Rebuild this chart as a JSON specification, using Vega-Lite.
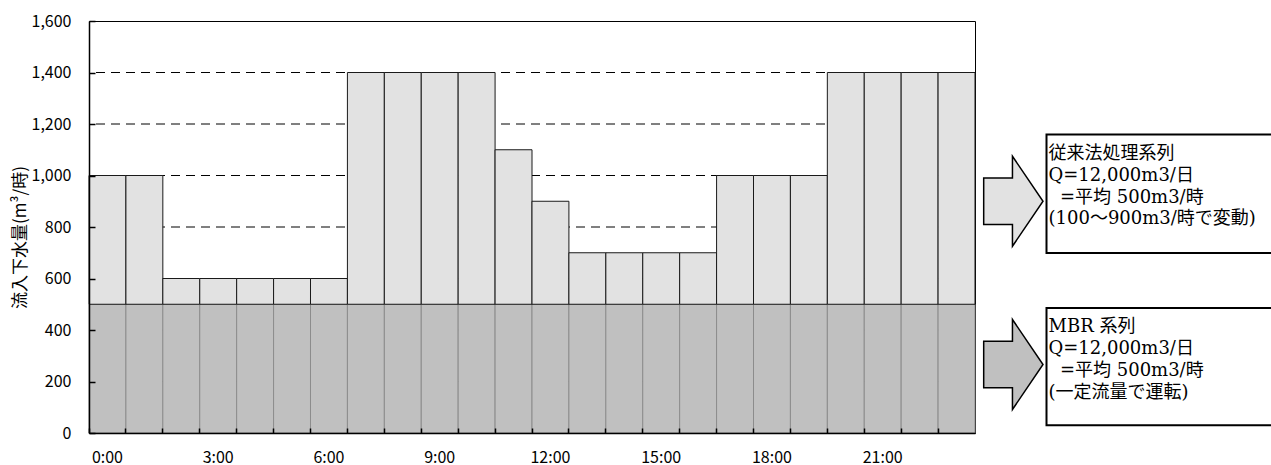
{
  "$schema": "https://vega.github.io/schema/vega-lite/v6.json",
  "padding": {"left": 10, "top": 12, "right": 0, "bottom": 0},
  "spacing": 0,
  "config": {
    "font": "Noto Sans CJK JP",
    "view": {"stroke": "#000", "strokeWidth": 1},
    "axis": {
      "labelColor": "#000",
      "titleColor": "#000",
      "domainColor": "#000",
      "tickColor": "#000",
      "labelFont": "Noto Sans CJK JP",
      "labelFontSize": 16,
      "titleFont": "Noto Sans CJK JP"
    }
  },
  "datasets": {
    "inflow": [
      {"time": "0:00", "mbr": 500, "total": 1000},
      {"time": "1:00", "mbr": 500, "total": 1000},
      {"time": "2:00", "mbr": 500, "total": 600},
      {"time": "3:00", "mbr": 500, "total": 600},
      {"time": "4:00", "mbr": 500, "total": 600},
      {"time": "5:00", "mbr": 500, "total": 600},
      {"time": "6:00", "mbr": 500, "total": 600},
      {"time": "7:00", "mbr": 500, "total": 1400},
      {"time": "8:00", "mbr": 500, "total": 1400},
      {"time": "9:00", "mbr": 500, "total": 1400},
      {"time": "10:00", "mbr": 500, "total": 1400},
      {"time": "11:00", "mbr": 500, "total": 1100},
      {"time": "12:00", "mbr": 500, "total": 900},
      {"time": "13:00", "mbr": 500, "total": 700},
      {"time": "14:00", "mbr": 500, "total": 700},
      {"time": "15:00", "mbr": 500, "total": 700},
      {"time": "16:00", "mbr": 500, "total": 700},
      {"time": "17:00", "mbr": 500, "total": 1000},
      {"time": "18:00", "mbr": 500, "total": 1000},
      {"time": "19:00", "mbr": 500, "total": 1000},
      {"time": "20:00", "mbr": 500, "total": 1400},
      {"time": "21:00", "mbr": 500, "total": 1400},
      {"time": "22:00", "mbr": 500, "total": 1400},
      {"time": "23:00", "mbr": 500, "total": 1400}
    ],
    "gridLevels": [
      {"v": 200}, {"v": 400}, {"v": 600}, {"v": 800},
      {"v": 1000}, {"v": 1200}, {"v": 1400}
    ]
  },
  "hconcat": [
    {
      "width": 886,
      "height": 412,
      "data": {"name": "inflow"},
      "layer": [
        {
          "data": {"name": "gridLevels"},
          "mark": {"type": "rule", "stroke": "#000", "strokeWidth": 1, "strokeDash": [9, 6]},
          "encoding": {
            "y": {"field": "v", "type": "quantitative", "scale": {"domain": [0, 1600], "nice": false}, "axis": null}
          }
        },
        {
          "mark": {"type": "bar", "fill": "#c0c0c0", "stroke": "#8c8c8c", "strokeWidth": 1},
          "encoding": {
            "x": {
              "field": "time", "type": "ordinal", "sort": null,
              "scale": {"paddingInner": 0, "paddingOuter": 0},
              "axis": {
                "orient": "top", "offset": -412, "bandPosition": 0,
                "labels": false, "ticks": true, "tickSize": 5, "tickWidth": 1.5,
                "domain": false, "grid": false, "title": null, "zindex": 1
              }
            },
            "y": {
              "field": "mbr", "type": "quantitative",
              "scale": {"domain": [0, 1600], "nice": false},
              "axis": {
                "orient": "right", "offset": -886,
                "values": [0, 200, 400, 600, 800, 1000, 1200, 1400, 1600],
                "labels": false, "ticks": true, "tickSize": 6, "tickWidth": 1.5,
                "domain": false, "grid": false, "title": null, "zindex": 1
              }
            }
          }
        },
        {
          "mark": {"type": "bar", "fill": "#e2e2e2", "stroke": "#1a1a1a", "strokeWidth": 1},
          "encoding": {
            "x": {
              "field": "time", "type": "ordinal", "sort": null,
              "scale": {"paddingInner": 0, "paddingOuter": 0},
              "axis": {
                "orient": "bottom",
                "values": ["0:00", "3:00", "6:00", "9:00", "12:00", "15:00", "18:00", "21:00"],
                "ticks": false, "domain": true, "domainWidth": 1.5,
                "labelAngle": 0, "labelPadding": 16,
                "grid": false, "title": null, "zindex": 1
              }
            },
            "y": {
              "field": "mbr", "type": "quantitative",
              "scale": {"domain": [0, 1600], "nice": false},
              "axis": {
                "orient": "left",
                "values": [0, 200, 400, 600, 800, 1000, 1200, 1400, 1600],
                "format": ",.0f", "ticks": false, "labelPadding": 18,
                "domain": true, "domainWidth": 1.5, "grid": false, "zindex": 1,
                "title": "流入下水量(m³/時)", "titleFontSize": 17, "titleFontWeight": "normal",
                "titlePadding": 2, "titleY": 216
              }
            },
            "y2": {"field": "total"}
          }
        }
      ],
      "resolve": {"axis": {"x": "independent", "y": "independent"}}
    },
    {
      "width": 298,
      "height": 412,
      "view": {"stroke": null},
      "layer": [
        {
          "data": {"values": [{"series": "従来法処理系列"}]},
          "mark": {
            "type": "point", "filled": true, "opacity": 1, "size": 8100,
            "shape": "M-0.659,-0.515L-0.02,-0.515L-0.02,-1L0.659,0L-0.02,1L-0.02,0.515L-0.659,0.515Z",
            "fill": "#e2e2e2", "stroke": "#000", "strokeWidth": 1.5
          },
          "encoding": {
            "x": {"datum": 37.35, "type": "quantitative", "scale": {"domain": [0, 298], "nice": false}, "axis": null},
            "y": {"datum": 900, "type": "quantitative", "scale": {"domain": [0, 1600], "nice": false}, "axis": null}
          }
        },
        {
          "data": {"values": [{"series": "MBR 系列"}]},
          "mark": {
            "type": "point", "filled": true, "opacity": 1, "size": 8100,
            "shape": "M-0.659,-0.515L-0.02,-0.515L-0.02,-1L0.659,0L-0.02,1L-0.02,0.515L-0.659,0.515Z",
            "fill": "#c0c0c0", "stroke": "#000", "strokeWidth": 1.5
          },
          "encoding": {
            "x": {"datum": 37.35, "type": "quantitative"},
            "y": {"datum": 266, "type": "quantitative"}
          }
        },
        {
          "data": {"values": [{"series": "従来法処理系列"}]},
          "mark": {"type": "rect", "fill": "#fff", "stroke": "#000", "strokeWidth": 2},
          "encoding": {
            "x": {"datum": 70.5, "type": "quantitative"},
            "x2": {"datum": 296},
            "y": {"datum": 1159, "type": "quantitative"},
            "y2": {"datum": 699}
          }
        },
        {
          "data": {"values": [{"series": "MBR 系列"}]},
          "mark": {"type": "rect", "fill": "#fff", "stroke": "#000", "strokeWidth": 2},
          "encoding": {
            "x": {"datum": 70.5, "type": "quantitative"},
            "x2": {"datum": 296},
            "y": {"datum": 485, "type": "quantitative"},
            "y2": {"datum": 30}
          }
        },
        {
          "data": {"values": [{"note": "従来法処理系列\nQ=12,000m3/日\n\u200b\u00a0\u00a0=平均 500m3/時\n(100～900m3/時で変動)"}]},
          "mark": {
            "type": "text", "align": "left", "baseline": "top", "lineBreak": "\n", "lineHeight": 21.7,
            "font": "DejaVu Serif, Noto Sans CJK JP", "fontSize": 18, "color": "#000"
          },
          "encoding": {
            "x": {"datum": 72.5, "type": "quantitative"},
            "y": {"datum": 1117, "type": "quantitative"},
            "text": {"field": "note", "type": "nominal"}
          }
        },
        {
          "data": {"values": [{"note": "MBR 系列\nQ=12,000m3/日\n\u200b\u00a0\u00a0=平均 500m3/時\n(一定流量で運転)"}]},
          "mark": {
            "type": "text", "align": "left", "baseline": "top", "lineBreak": "\n", "lineHeight": 21.7,
            "font": "DejaVu Serif, Noto Sans CJK JP", "fontSize": 18, "color": "#000"
          },
          "encoding": {
            "x": {"datum": 72.5, "type": "quantitative"},
            "y": {"datum": 445, "type": "quantitative"},
            "text": {"field": "note", "type": "nominal"}
          }
        }
      ]
    }
  ]
}
